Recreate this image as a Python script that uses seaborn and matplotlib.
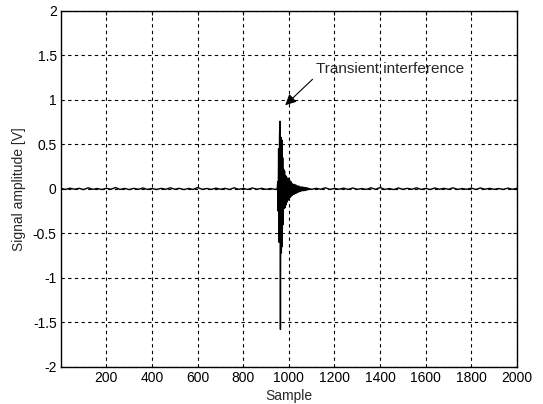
import numpy as np
import pandas as pd
import matplotlib
matplotlib.use("Agg")
import matplotlib.pyplot as plt
import seaborn as sns

# Quiet baseline before the event (sample, amplitude)
pre_samples = [0, 20, 40, 60, 80, 100, 120, 140, 160, 180, 200, 220, 240, 260, 280,
               300, 320, 340, 360, 380, 400, 420, 440, 460, 480, 500, 520, 540, 560,
               580, 600, 620, 640, 660, 680, 700, 720, 740, 760, 780, 800, 820, 840,
               860, 880, 900, 920, 940, 949]
pre_values = [0.005, -0.006, 0.008, -0.004, 0.006, -0.008, 0.012, -0.005, 0.004, -0.007,
              0.006, -0.004, 0.015, -0.006, 0.005, -0.008, 0.006, -0.005, 0.010, -0.006,
              0.004, -0.007, 0.006, -0.005, 0.012, -0.004, 0.006, -0.008, 0.005, -0.006,
              0.015, -0.005, 0.004, -0.006, 0.008, -0.004, 0.006, -0.007, 0.012, -0.005,
              0.004, -0.006, 0.010, -0.004, 0.006, -0.005, 0.004, -0.006, 0.0]

# Transient burst and its decaying ring-down
burst_samples = list(range(951, 1087, 2))
burst_values = [0.08, -0.25, 0.45, -0.60, 0.60, 0.76, -1.58, 0.58, -0.72, 0.55,
                -0.65, 0.35, -0.40, 0.22, -0.22, 0.20, -0.21, 0.15, -0.18, 0.14,
                -0.15, 0.12, -0.13, 0.12, -0.12, 0.11, -0.10, 0.09, -0.09, 0.08,
                -0.08, 0.06, -0.07, 0.05, -0.06, 0.05, -0.06, 0.05, -0.05, 0.04,
                -0.05, 0.04, -0.04, 0.03, -0.04, 0.03, -0.03, 0.03, -0.03, 0.02,
                -0.03, 0.02, -0.02, 0.02, -0.02, 0.02, -0.02, 0.015, -0.02, 0.015,
                -0.015, 0.01, -0.015, 0.01, -0.01, 0.01, -0.01, 0.005]

# Quiet baseline after the event
post_samples = [1100, 1120, 1140, 1160, 1180, 1200, 1220, 1240, 1260, 1280, 1300, 1320,
                1340, 1360, 1380, 1400, 1420, 1440, 1460, 1480, 1500, 1520, 1540, 1560,
                1580, 1600, 1620, 1640, 1660, 1680, 1700, 1720, 1740, 1760, 1780, 1800,
                1820, 1840, 1860, 1880, 1900, 1920, 1940, 1960, 1980, 2000]
post_values = [-0.005, 0.006, -0.004, 0.012, -0.006, 0.005, -0.004, 0.008, -0.006, 0.010,
               -0.005, 0.004, -0.006, 0.012, -0.005, 0.015, -0.006, 0.004, -0.008, 0.010,
               -0.005, 0.006, -0.004, 0.012, -0.006, 0.005, -0.007, 0.010, -0.004, 0.006,
               -0.005, 0.012, -0.006, 0.004, -0.005, 0.008, -0.006, 0.010, -0.004, 0.006,
               -0.005, 0.004, -0.006, 0.008, -0.004, 0.005]

x_ticks = [200, 400, 600, 800, 1000, 1200, 1400, 1600, 1800, 2000]
y_ticks = [-2, -1.5, -1, -0.5, 0, 0.5, 1, 1.5, 2]
y_tick_labels = ["-2", "-1.5", "-1", "-0.5", "0", "0.5", "1", "1.5", "2"]

signal = pd.DataFrame({
    "Sample": pre_samples + burst_samples + post_samples,
    "Amplitude": pre_values + burst_values + post_values,
})

sns.set_style("white")
plt.rcParams["font.family"] = ["Liberation Sans", "DejaVu Sans"]
plt.rcParams["font.size"] = 10

fig = plt.figure(figsize=(5.43, 4.04), dpi=100)
ax = fig.add_axes([0.112, 0.092, 0.840, 0.881])

sns.lineplot(data=signal, x="Sample", y="Amplitude", ax=ax, color="black",
             linewidth=1.0, estimator=None, sort=True)

ax.set_xlim(0, 2000)
ax.set_ylim(-2, 2)
ax.set_xticks(x_ticks)
ax.set_yticks(y_ticks)
ax.set_yticklabels(y_tick_labels)
ax.set_xlabel("Sample", fontsize=10, labelpad=3)
ax.set_ylabel("Signal amplitude [V]", fontsize=10, labelpad=5)

ax.grid(True, color="black", linestyle=(0, (3, 3)), linewidth=0.8)
for side in ax.spines.values():
    side.set_color("black")
    side.set_linewidth(1.0)
ax.tick_params(direction="in", length=3, width=0.8, colors="black",
               top=True, right=True, labelsize=10, pad=3)

ax.annotate("Transient interference", xy=(984, 0.94), xytext=(1118, 1.345),
            fontsize=11, va="center", ha="left",
            arrowprops=dict(arrowstyle="-|>", color="black", lw=0.8,
                            shrinkA=0, shrinkB=0, mutation_scale=16,
                            relpos=(0.0, 0.0)))

fig.savefig("out.png", dpi=100)
